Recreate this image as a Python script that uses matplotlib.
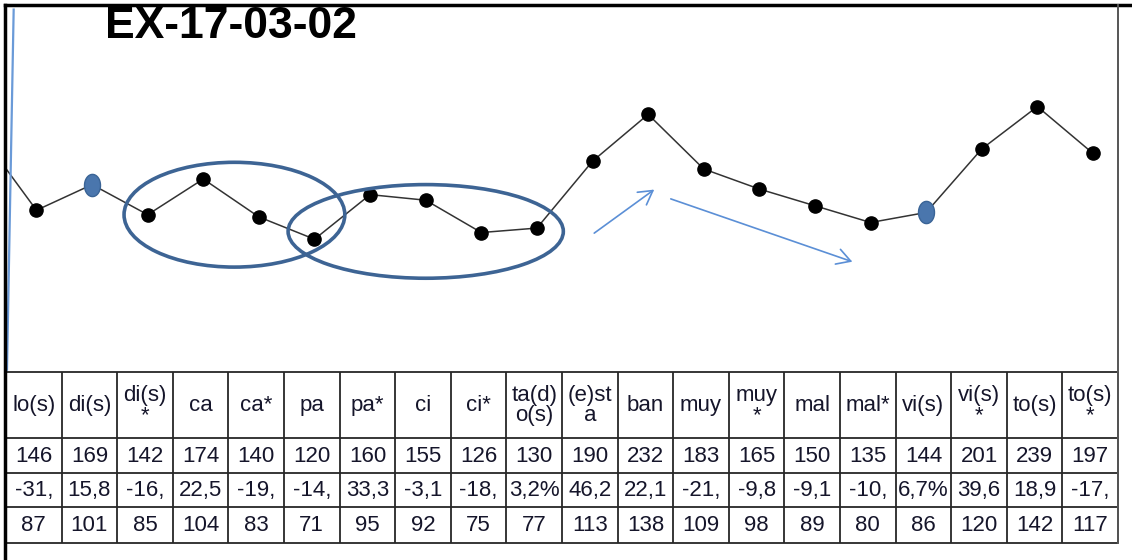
import matplotlib
matplotlib.use('Agg')
import matplotlib.pyplot as plt
from matplotlib.patches import Ellipse, FancyArrowPatch
from matplotlib.lines import Line2D
from matplotlib.path import Path
import numpy as np

plt.rcParams['font.family'] = ['Liberation Sans', 'DejaVu Sans']

# data
headers = ['lo(s)', 'di(s)', 'di(s)\n*', 'ca', 'ca*', 'pa', 'pa*', 'ci', 'ci*',
           'ta(d)\no(s)', '(e)st\na', 'ban', 'muy', 'muy\n*', 'mal', 'mal*',
           'vi(s)', 'vi(s)\n*', 'to(s)', 'to(s)\n*']
values = [146, 169, 142, 174, 140, 120, 160, 155, 126, 130,
          190, 232, 183, 165, 150, 135, 144, 201, 239, 197]
pct_row = ['-31,', '15,8', '-16,', '22,5', '-19,', '-14,', '33,3', '-3,1', '-18,', '3,2%',
           '46,2', '22,1', '-21,', '-9,8', '-9,1', '-10,', '6,7%', '39,6', '18,9', '-17,']
last_row = [87, 101, 85, 104, 83, 71, 95, 92, 75, 77,
            113, 138, 109, 98, 89, 80, 86, 120, 142, 117]
prev_value = 214          # point before the first column, only its segment shows
highlight = [1, 16]       # di(s), vi(s)

W, H = 1132, 560
fig = plt.figure(figsize=(W / 100, H / 100), dpi=100)

def fx(px):
    return px / W

def fy(py):
    return 1 - py / H

# chart area
ax = fig.add_axes([fx(7), fy(373), fx(1118) - fx(7), fy(4) - fy(373)])
ax.set_xlim(-0.53, 19.45)
ax.set_ylim(0, 331)
ax.axis('off')

x = np.arange(len(values))
ax.plot(np.r_[-1, x], [prev_value] + values, color='#333333', lw=1.1, zorder=2)
ax.plot(x, values, 'o', color='black', ms=9.5, zorder=3)

oval = Path(np.c_[0.72 * np.cos(np.linspace(0, 2 * np.pi, 60)),
                  np.sin(np.linspace(0, 2 * np.pi, 60))])
ax.plot(x[highlight], [values[i] for i in highlight], ls='none', marker=oval,
        ms=16, mfc='#4a76ad', mec='#3a6496', mew=1, zorder=4)

ring = '#3d6494'
ax.add_patch(Ellipse((3.56, 142), 3.97, 94, fill=False, ec=ring, lw=2.6, zorder=5))
ax.add_patch(Ellipse((7.0, 127), 4.95, 84, fill=False, ec=ring, lw=2.6, zorder=5))

arrow_c = '#5b8fd6'
for (x0, y0), (x1, y1) in [((9.99, 124), (11.15, 166)), ((11.36, 157), (14.72, 99))]:
    ax.add_patch(FancyArrowPatch((x0, y0), (x1, y1), arrowstyle='->,head_length=0.7,head_width=0.4',
                                 mutation_scale=14, color=arrow_c, lw=1.2, zorder=5))
ax.plot([-0.41, -0.53], [326, 3], color='#6a9ad8', lw=1.6, clip_on=False, zorder=5)

fig.text(fx(231), fy(27), 'EX-17-03-02', fontsize=32, fontweight='bold',
         ha='center', va='center')

# table
tab = fig.add_axes([fx(6), fy(543), fx(1118) - fx(6), fy(372) - fy(543)])
tab.set_xlim(0, 20)
tab.set_ylim(171, 0)
tab.axis('off')
row_edges = [0, 65.5, 100.5, 134.5, 171]
grid_c = '#262626'
tab.hlines(row_edges, 0, 20, color=grid_c, lw=1.3, clip_on=False)
tab.vlines(np.arange(21), 0, 171, color=grid_c, lw=1.3, clip_on=False)
txt_c = '#15152a'
rows = [headers, [str(v) for v in values], pct_row, [str(v) for v in last_row]]
for r, row in enumerate(rows):
    yc = (row_edges[r] + row_edges[r + 1]) / 2
    for c, s in enumerate(row):
        tab.text(c + 0.5, yc + 1, s, fontsize=16, ha='center', va='center',
                 color=txt_c, linespacing=0.95)

# outer frame
fig.add_artist(Line2D([fx(5), 1], [fy(5), fy(5)], color='black', lw=2.5))
fig.add_artist(Line2D([fx(5), fx(5)], [0, fy(5)], color='black', lw=2.5))
fig.add_artist(Line2D([fx(1118), fx(1118)], [fy(543), fy(5)], color='#555555', lw=1.4))

fig.savefig('out.png', dpi=100)
